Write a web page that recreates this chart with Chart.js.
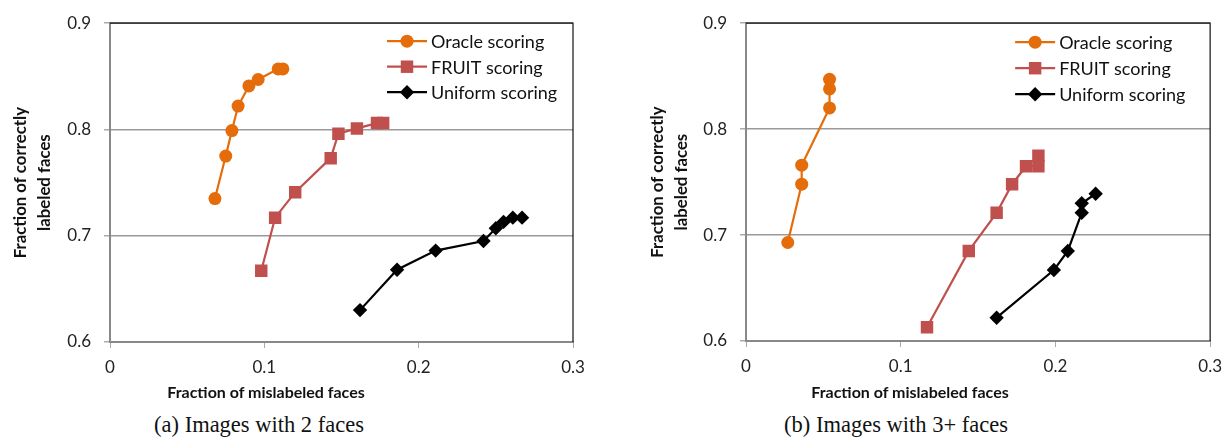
<!DOCTYPE html>
<html>
<head>
<meta charset="utf-8">
<script src="https://cdn.jsdelivr.net/npm/chart.js@4/dist/chart.umd.min.js"></script>
<style>
  html, body { margin: 0; padding: 0; background: #fff; }
  #wrap { position: relative; width: 1231px; height: 444px; overflow: hidden; }
  canvas { position: absolute; top: 0; }
  .cap { position: absolute; top: 411px; font-family: "Liberation Serif", "DejaVu Serif", serif;
         font-size: 22.5px; line-height: 28px; color: #111; white-space: nowrap; text-align: center; width: 400px; }
  .xt { position: absolute; top: 382px; font-family: Lato, sans-serif; font-weight: bold;
        font-size: 16px; line-height: 20px; color: #111; white-space: nowrap; text-align: center; width: 400px; }
</style>
</head>
<body>
<div id="wrap">
  <canvas id="chartA" width="620" height="410" style="left:0"></canvas>
  <canvas id="chartB" width="611" height="410" style="left:620px"></canvas>
  <div class="xt" style="left:66px">Fraction of mislabeled faces</div>
  <div class="xt" style="left:710px">Fraction of mislabeled faces</div>
  <div class="cap" style="left:59px">(a) Images with 2 faces</div>
  <div class="cap" style="left:696px">(b) Images with 3+ faces</div>
</div>
<script>
// Series names and tick labels
const seriesNames = ['Oracle scoring', 'FRUIT scoring', 'Uniform scoring'];
const xTickLabels = ['0', '0.1', '0.2', '0.3'];
const yTickLabels = ['0.6', '0.7', '0.8', '0.9'];

// (a) images with 2 faces
const oracleA_x  = [0.068, 0.075, 0.079, 0.083, 0.090, 0.096, 0.109, 0.112];
const oracleA_y  = [0.735, 0.775, 0.799, 0.822, 0.841, 0.847, 0.857, 0.857];
const fruitA_x   = [0.098, 0.107, 0.120, 0.143, 0.148, 0.160, 0.173, 0.177];
const fruitA_y   = [0.667, 0.717, 0.741, 0.773, 0.796, 0.801, 0.806, 0.806];
const uniformA_x = [0.162, 0.186, 0.211, 0.242, 0.250, 0.255, 0.261, 0.267];
const uniformA_y = [0.630, 0.668, 0.686, 0.695, 0.707, 0.713, 0.717, 0.717];

// (b) images with 3+ faces
const oracleB_x  = [0.027, 0.036, 0.036, 0.054, 0.054, 0.054];
const oracleB_y  = [0.693, 0.748, 0.766, 0.820, 0.838, 0.847];
const fruitB_x   = [0.117, 0.144, 0.162, 0.172, 0.181, 0.189, 0.189];
const fruitB_y   = [0.613, 0.685, 0.721, 0.748, 0.765, 0.765, 0.775];
const uniformB_x = [0.162, 0.199, 0.208, 0.217, 0.217, 0.226];
const uniformB_y = [0.622, 0.667, 0.685, 0.721, 0.730, 0.739];

const styles = [
  { color: '#E46C0A', point: 'circle',  radius: 6.5 },
  { color: '#C0504D', point: 'rect',    radius: 8.8 },
  { color: '#000000', point: 'rectRot', radius: 7.2 }
];

function pairs(xs, ys) { return xs.map((x, i) => ({ x: x, y: ys[i] })); }

function makeDatasets(list) {
  return list.map((d, i) => ({
    label: seriesNames[i],
    data: pairs(d[0], d[1]),
    showLine: true,
    borderColor: styles[i].color,
    backgroundColor: styles[i].color,
    borderWidth: 2.2,
    pointStyle: styles[i].point,
    pointRadius: styles[i].radius,
    pointHoverRadius: styles[i].radius,
    pointBorderWidth: 0,
    tension: 0
  }));
}

function drawMarker(ctx, style, x, y, r) {
  ctx.beginPath();
  if (style === 'circle') {
    ctx.arc(x, y, r, 0, Math.PI * 2);
  } else if (style === 'rect') {
    const s = Math.SQRT1_2 * r;
    ctx.rect(x - s, y - s, 2 * s, 2 * s);
  } else {
    ctx.moveTo(x, y - r); ctx.lineTo(x + r, y); ctx.lineTo(x, y + r); ctx.lineTo(x - r, y);
    ctx.closePath();
  }
  ctx.fill();
}

// Frame on top/right edges plus a line-and-marker legend inside the plot
const framePlugin = {
  id: 'frameAndLegend',
  afterDatasetsDraw(chart, args, opts) {
    const { ctx, chartArea: a } = chart;
    ctx.save();
    ctx.strokeStyle = '#111';
    ctx.lineWidth = 1.2;
    ctx.beginPath();
    ctx.moveTo(a.left, a.top); ctx.lineTo(a.right, a.top); ctx.lineTo(a.right, a.bottom);
    ctx.stroke();

    const x0 = a.right - opts.fromRight;
    chart.data.datasets.forEach((ds, i) => {
      const y = a.top + opts.firstRow + i * opts.rowGap;
      ctx.strokeStyle = ds.borderColor;
      ctx.fillStyle = ds.borderColor;
      ctx.lineWidth = 2.2;
      ctx.beginPath(); ctx.moveTo(x0, y); ctx.lineTo(x0 + 40, y); ctx.stroke();
      drawMarker(ctx, ds.pointStyle, x0 + 20, y, ds.pointRadius);
      ctx.fillStyle = '#111';
      ctx.font = '18px Lato';
      ctx.textBaseline = 'middle';
      ctx.textAlign = 'left';
      ctx.fillText(ds.label, x0 + 44, y + 1);
    });
    ctx.restore();
  }
};

function makeChart(id, data, cfg) {
  return new Chart(document.getElementById(id), {
    type: 'scatter',
    data: { datasets: makeDatasets(data) },
    plugins: [framePlugin],
    options: {
      responsive: false,
      animation: false,
      devicePixelRatio: 1,
      layout: { padding: { top: cfg.top, right: cfg.right, left: 0, bottom: 0 } },
      plugins: {
        legend: { display: false },
        tooltip: { enabled: false },
        frameAndLegend: cfg.legend
      },
      scales: {
        x: {
          type: 'linear', min: 0, max: 0.3,
          afterFit(s) { s.height = cfg.xHeight; },
          ticks: {
            stepSize: 0.1, padding: 9, color: '#222', font: { family: 'Lato', size: 17 },
            maxRotation: 0,
            callback: (v, i) => xTickLabels[i]
          },
          grid: { drawOnChartArea: false, drawTicks: true, tickLength: 6, tickColor: '#aaa' },
          border: { color: '#888', width: 2 },
          title: { display: false }
        },
        y: {
          type: 'linear', min: 0.6, max: 0.9,
          afterFit(s) { s.width = cfg.yWidth; },
          ticks: {
            stepSize: 0.1, padding: 13, color: '#222', font: { family: 'Lato', size: 17 },
            callback: (v, i) => yTickLabels[i]
          },
          grid: { color: '#9a9a9a', lineWidth: 1.5, drawTicks: true, tickLength: 6, tickColor: '#aaa' },
          border: { color: '#888', width: 2 },
          title: {
            display: true, text: ['Fraction of correctly', 'labeled faces'], color: '#111',
            font: { family: 'Lato', size: 16.8, weight: 'bold', lineHeight: 1.45 },
            padding: { top: cfg.yTitlePad, bottom: 0 }
          }
        }
      }
    }
  });
}

makeChart('chartA',
  [[oracleA_x, oracleA_y], [fruitA_x, fruitA_y], [uniformA_x, uniformA_y]],
  { top: 20, right: 47, xHeight: 68, yWidth: 110, yTitlePad: 8,
    legend: { fromRight: 186, firstRow: 18, rowGap: 25.5 } });

makeChart('chartB',
  [[oracleB_x, oracleB_y], [fruitB_x, fruitB_y], [uniformB_x, uniformB_y]],
  { top: 14, right: 19, xHeight: 69, yWidth: 126, yTitlePad: 25,
    legend: { fromRight: 195, firstRow: 19, rowGap: 26 } });
</script>
</body>
</html>
